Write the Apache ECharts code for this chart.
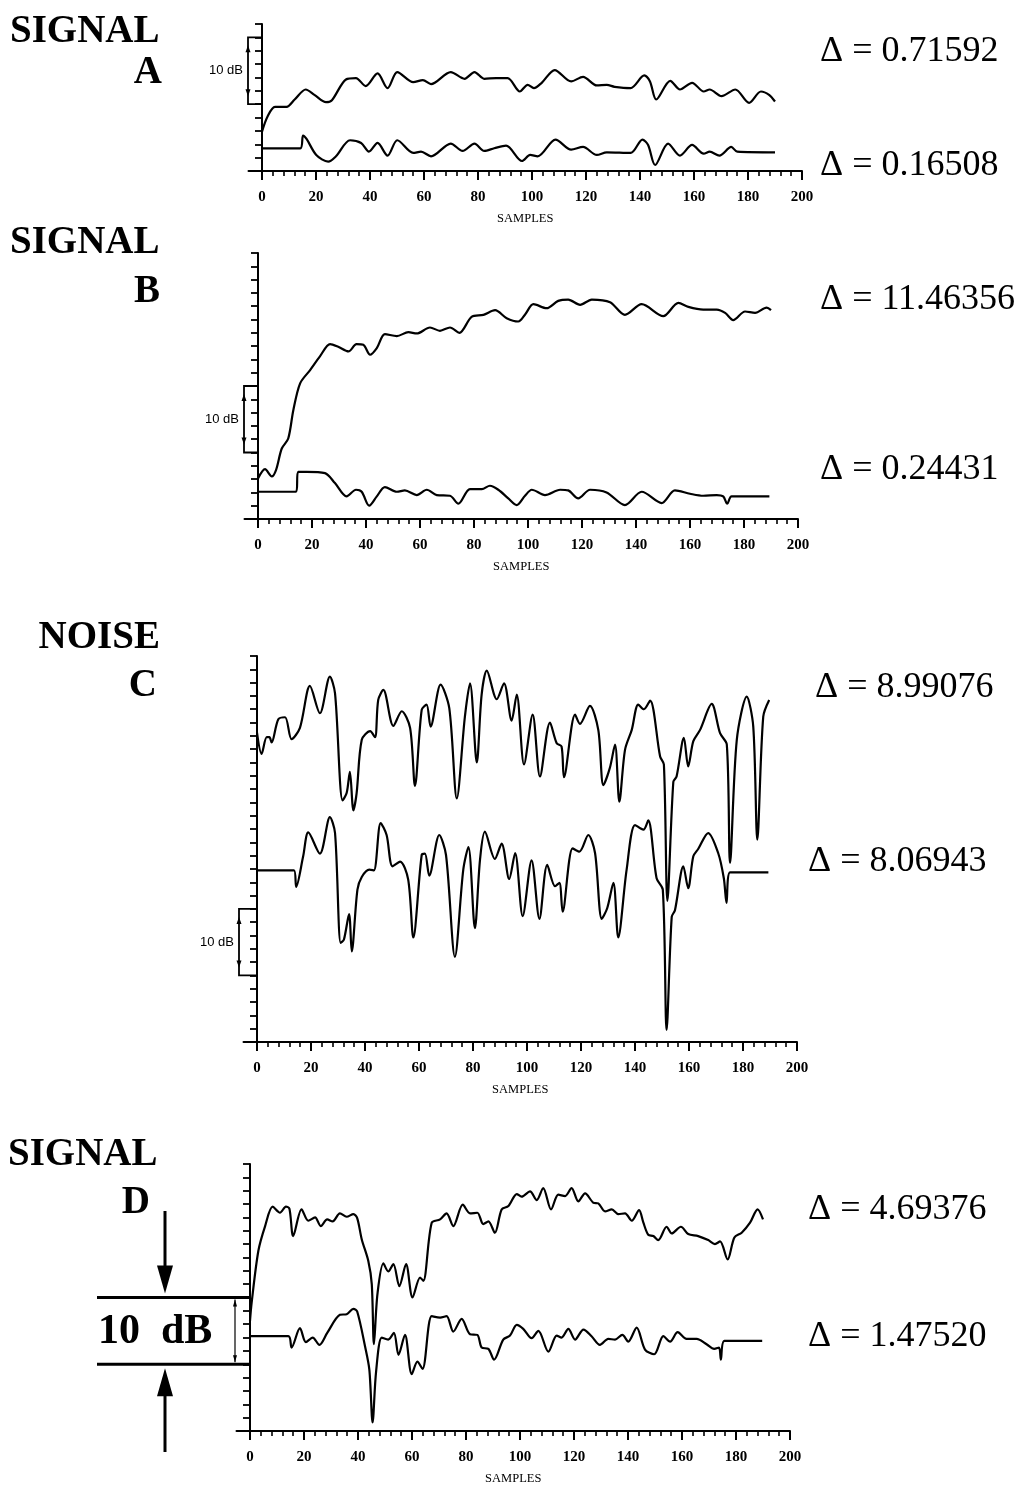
<!DOCTYPE html>
<html><head><meta charset="utf-8">
<script src="https://cdn.jsdelivr.net/npm/echarts@6/dist/echarts.min.js"></script>
<style>html,body{margin:0;padding:0;background:#fff}#c{width:1028px;height:1486px}</style>
</head><body><div id="c"></div>
<script>
// ---- tick values ----
const xLabelValues = [0,20,40,60,80,100,120,140,160,180,200];
const xMinorValues = [0,4,8,12,16,20,24,28,32,36,40,44,48,52,56,60,64,68,72,76,80,84,88,92,96,100,104,108,112,116,120,124,128,132,136,140,144,148,152,156,160,164,168,172,176,180,184,188,192,196,200];

// ---- panel A (sample, dB) ----
const aUpper = [[0,5.9],[2.1,8.2],[4.8,9.6],[9.1,9.6],[12.1,10.7],[16.2,12.2],[19.4,11.4],[23.7,10.3],[25.9,10.6],[31.1,13.7],[34.8,13.9],[38.4,12.7],[42.8,14.6],[46.5,12.4],[50.1,14.8],[56,13.3],[59.6,13.6],[62.6,13.0],[69.9,14.8],[75,13.8],[78.7,14.8],[82.3,13.8],[86.7,13.9],[91,13.9],[95.5,11.9],[98.4,12.9],[100.7,12.4],[103.6,13.2],[108.4,15.1],[114.5,13.4],[118.9,14.1],[124,12.8],[127.7,12.9],[130.6,12.6],[136.5,12.4],[141.6,14.3],[143.7,13.4],[146,10.7],[151.2,13.5],[154.8,12.2],[159.3,13.2],[163.6,11.9],[165.8,12.2],[170.2,11.2],[175.3,12.2],[180.4,10.2],[184.8,11.9],[187.8,11.4],[190,10.4]];
const aLower = [[0,3.4],[14.2,3.4],[15.2,5.3],[16.5,4.8],[20.1,2.4],[24.5,1.4],[27.4,2.2],[32.6,4.6],[36.7,4.2],[39.6,2.9],[42.8,4.2],[46.5,2.3],[50.1,4.6],[56,2.7],[58.9,2.9],[62.6,2.2],[69.9,4.1],[74.3,3.0],[78.7,4.1],[82.3,3.0],[86,3.4],[90.4,3.8],[96.3,1.5],[99.3,2.4],[102.1,2.2],[108.7,4.7],[114.5,3.2],[118.9,3.6],[124,2.4],[127.7,2.8],[136.5,2.7],[140.9,4.7],[143,3.9],[145.6,0.9],[150.4,4.1],[154.8,2.3],[159.3,3.9],[163.6,2.6],[165.8,2.9],[169.4,2.3],[173.8,3.6],[176,2.9],[190,2.8]];

// ---- panel B ----
const bUpper = [[0,6.1],[2.6,7.5],[5.1,6.4],[6.7,7.4],[8.8,10.6],[11.2,12.1],[13.1,16.4],[15.6,20.4],[19.3,22.4],[23,24.5],[26.7,26.3],[29.7,25.9],[33.5,25.2],[36.5,26.3],[39,26.2],[41.5,24.7],[44,25.7],[47,27.8],[51.4,27.5],[55.7,28.1],[58.8,27.9],[63.7,28.8],[67.4,28.3],[71.1,28.8],[74.6,28.0],[79.1,30.4],[83.5,30.7],[87.8,31.4],[92.1,30.2],[96.4,29.7],[99,30.8],[102,32.3],[106.9,31.7],[111.2,32.8],[114.9,33.0],[119.3,32.2],[123.6,33.0],[130.4,32.6],[135.9,30.7],[142.1,32.3],[150.1,30.5],[155.7,32.5],[159.4,31.9],[164.9,31.5],[169.9,31.5],[173,31.0],[176,29.9],[180.4,31.2],[184.1,31.0],[188.4,31.8],[190,31.4]];
const bLower = [[0,4.1],[14.1,4.1],[14.9,7.1],[18,7.1],[24.8,6.9],[28.5,5.4],[32.8,3.4],[36.3,4.4],[38.4,4.1],[41.2,2.0],[44,3.4],[47,4.8],[51.4,4.1],[54.4,4.3],[58.8,3.6],[62.5,4.4],[66.2,3.6],[71.1,3.5],[74.2,2.3],[78.5,4.5],[82.9,4.5],[85.9,5.0],[89,4.4],[92.7,3.1],[95.8,2.1],[98.9,3.5],[101.4,4.4],[106.3,3.6],[111.9,4.4],[114.9,4.3],[118.6,3.1],[123,4.4],[129.1,4.0],[135.9,2.1],[142.1,4.1],[149.5,2.4],[154.4,4.3],[160,3.8],[164.9,3.5],[169.9,3.6],[172.3,3.4],[173.8,2.3],[175.4,3.4],[189.4,3.4]];

// ---- panel C ----
const cUpper = [[0,46.5],[1.7,43.3],[3.6,45.8],[4.6,45.8],[5.4,45.0],[7.9,48.5],[10.4,48.8],[12.8,45.5],[15.9,47.2],[19.6,53.5],[23.3,49.4],[27,54.9],[28.9,52.4],[31.7,36.3],[33.2,37.4],[34.4,40.6],[35.7,34.8],[36.9,37.4],[38.8,45.4],[41.9,46.7],[43.7,45.8],[44.9,51.4],[46.8,52.9],[50.5,47.5],[53.6,49.7],[56.7,47.2],[58.5,38.5],[61,49.9],[62.8,50.7],[64.3,47.4],[68,53.7],[71.2,50.2],[74,36.6],[77,48.9],[78.9,53.9],[81.4,42.0],[83.2,52.2],[85.1,55.8],[88.8,51.5],[91.5,53.9],[94.3,48.3],[96.2,52.2],[98.9,41.7],[102.1,49.2],[104.8,39.9],[108.5,48.0],[111,44.9],[112.8,44.4],[113.7,39.8],[117.8,49.2],[119.6,47.8],[123.3,50.5],[126.4,46.9],[128.3,38.6],[130.7,41.2],[132.6,44.7],[134.2,36.1],[136.3,43.9],[138.8,46.9],[141.2,50.7],[143.3,50.0],[145.6,51.3],[149.3,42.9],[150.7,41.7],[152,21.2],[154.2,39.1],[155.4,39.9],[158.1,45.7],[159.7,41.4],[161.6,45.2],[164.1,46.9],[168.4,50.8],[171.5,46.4],[174,44.7],[175.2,26.9],[177.7,45.4],[181.4,51.9],[183.8,47.4],[185.3,30.4],[187.5,48.9],[189.7,51.4]];
const cLower = [[0,25.8],[13.7,25.8],[14.5,23.3],[17.1,27.9],[19,31.5],[23.3,28.3],[27,33.8],[28.9,31.4],[31,14.9],[32.2,15.4],[34.1,19.2],[35.1,13.6],[37.2,22.9],[38.8,24.8],[41.6,25.9],[43.3,25.8],[45.8,32.9],[48,31.1],[50.2,26.4],[53,27.1],[56,24.4],[57.9,15.7],[61,28.1],[62.2,28.3],[63.8,25.0],[67.5,31.1],[70,28.1],[73.3,12.8],[76.4,25.9],[78.3,29.3],[80.7,17.1],[82.6,27.4],[84.4,31.6],[88.1,27.5],[90.6,29.8],[93.4,24.5],[95.6,28.4],[98.4,18.9],[101.7,27.3],[104.6,18.5],[107.5,26.6],[110.4,23.4],[112,23.9],[113.2,19.6],[116.9,29.1],[119.4,28.6],[122.7,31.1],[125.2,28.4],[127.7,18.5],[129.7,20.1],[132,23.9],[133.8,15.7],[136.9,25.9],[140,32.6],[143.1,31.9],[144.9,33.3],[148,24.6],[150.3,22.9],[151.7,1.8],[153.6,18.8],[154.8,19.8],[157.9,26.4],[159.7,23.1],[161.6,27.9],[163.4,29.0],[167.1,31.4],[170.8,28.4],[172.9,24.6],[173.9,20.9],[175.2,25.5],[189.4,25.5]];

// ---- panel D ----
const dUpper = [[0,16.5],[0.6,19.2],[3.1,27.0],[5.6,30.7],[8.4,33.6],[11.1,32.7],[13.3,33.6],[14.6,33.3],[16,29.2],[19.1,33.2],[21.6,31.5],[24.1,32.0],[26.2,30.7],[28.6,31.7],[30.6,31.4],[33.3,32.6],[35.8,32.1],[38.3,32.5],[39.7,31.9],[41.4,28.7],[43.8,25.5],[45.1,22.0],[45.9,13.0],[47.2,20.5],[49.4,25.1],[51.2,23.9],[53.1,25.0],[55.3,21.7],[57.8,25.0],[60.2,20.0],[63,23.0],[64.2,22.5],[67.3,31.2],[70.4,31.7],[72.8,32.6],[75.3,30.7],[78.8,33.9],[81.5,32.6],[84.2,32.7],[86.4,31.0],[88.3,31.4],[90.7,29.7],[93.2,33.2],[95.7,33.7],[98.8,35.5],[100.6,35.1],[103.7,35.9],[106.2,34.6],[108.6,36.4],[111.5,33.2],[114.2,35.4],[116.7,35.2],[119.1,36.4],[121.6,34.4],[124.1,35.6],[127.2,34.2],[129,34.1],[131.5,32.9],[134,33.2],[136.4,32.5],[138.9,32.6],[141.4,31.5],[144.1,33.1],[145.7,31.2],[147.5,29.4],[149.4,29.2],[151.2,28.6],[154.3,30.6],[156.2,29.6],[159.6,30.6],[162.3,29.5],[166,29.2],[169.7,28.6],[172.2,28.0],[174.1,28.4],[176.9,25.7],[179.4,29.0],[182.1,29.7],[185.2,31.2],[188,33.2],[190,31.7]];
const dLower = [[0,14.2],[14.2,14.2],[15.4,12.5],[18.5,15.4],[20.7,13.3],[23.2,14.0],[25.7,12.9],[28.6,14.7],[33.3,17.4],[35.8,17.5],[38.3,18.3],[39.7,17.9],[42.6,12.7],[44.2,9.2],[45.4,1.3],[46.7,8.9],[48.8,14.0],[51.2,13.7],[53.3,14.7],[55,11.4],[57.4,14.4],[59.9,8.5],[62,10.4],[63.9,9.3],[67.3,17.2],[70.4,17.0],[72.8,17.2],[75.3,14.9],[78.4,16.8],[81.5,14.5],[84.2,14.4],[85.8,12.5],[88.3,12.3],[90.4,10.7],[93.8,13.7],[96.3,14.3],[98.8,15.9],[101.2,15.3],[104.3,13.9],[106.8,15.0],[110.5,11.9],[113.6,14.3],[115.4,14.0],[117.9,15.3],[120.4,13.7],[123.5,15.2],[126.5,14.2],[129.6,12.9],[132.7,13.8],[135.2,13.7],[137.9,14.4],[140.1,13.4],[143.2,15.5],[146.3,12.2],[149.7,11.5],[153.1,14.2],[155.6,13.4],[158.4,14.8],[161.7,13.8],[165.4,13.8],[169.1,13.0],[171.9,12.3],[173.7,12.5],[174.4,10.7],[175.7,13.5],[189.7,13.5]];

// ---- text ----
const panelTitles = [['SIGNAL','A'],['SIGNAL','B'],['NOISE','C'],['SIGNAL','D']];
const deltaUpper = ['0.71592','11.46356','8.99076','4.69376'];
const deltaLower = ['0.16508','0.24431','8.06943','1.47520'];
const yMax = [22, 40, 58, 40];

// layout (pixels) per panel
const L = [
  {x0:262, top:24,  bottom:171},
  {x0:258, top:253, bottom:519},
  {x0:257, top:656, bottom:1042},
  {x0:250, top:1164,bottom:1431}
];
const PXU = 2.7;
const XMIN = -5;

const chart = echarts.init(document.getElementById('c'));
const grids=[], xAxes=[], yAxes=[], series=[];
const pairs = [[aUpper,aLower],[bUpper,bLower],[cUpper,cLower],[dUpper,dLower]];
const serif = '"Liberation Serif", "Times New Roman", serif';
L.forEach((p,i)=>{
  grids.push({left: p.x0 + XMIN*PXU, width: (200-XMIN)*PXU, top: p.top, height: p.bottom-p.top});
  xAxes.push({type:'value', gridIndex:i, min:XMIN, max:200, position:'bottom',
    axisLine:{show:true, onZero:true, lineStyle:{color:'#000', width:2}},
    axisTick:{show:true, customValues:xMinorValues, length:5, inside:false, lineStyle:{color:'#000', width:1.6}},
    axisLabel:{show:true, customValues:xLabelValues, margin:19, color:'#000', fontFamily:serif, fontWeight:'bold', fontSize:15},
    splitLine:{show:false},
    name:'SAMPLES', nameLocation:'middle', nameGap:41,
    nameTextStyle:{color:'#000', fontFamily:serif, fontSize:12.5}
  });
  xAxes.push({type:'value', gridIndex:i, min:XMIN, max:200, position:'bottom',
    axisLine:{show:false},
    axisTick:{show:true, customValues:xLabelValues, length:9, inside:false, lineStyle:{color:'#000', width:2}},
    axisLabel:{show:false}, splitLine:{show:false}
  });
  yAxes.push({type:'value', gridIndex:i, min:0, max:yMax[i], interval:2,
    axisLine:{show:true, onZero:true, onZeroAxisIndex:2*i, lineStyle:{color:'#000', width:2}},
    axisTick:{show:true, length:7, inside:false, lineStyle:{color:'#000', width:1.8}},
    axisLabel:{show:false}, splitLine:{show:false}
  });
  pairs[i].forEach(d=>{
    series.push({type:'line', xAxisIndex:2*i, yAxisIndex:i, data:d, showSymbol:false, smooth:0.3,
      lineStyle:{color:'#000', width:2.2}, silent:true, animation:false});
  });
});

chart.setOption({animation:false, backgroundColor:'#fff', grid:grids, xAxis:xAxes, yAxis:yAxes, series:series});

// ---- annotations ----
const g = [];
function T(text, x, y, font, align){
  g.push({type:'text', x:x, y:y, style:{text:text, font:font, fill:'#000', align:align||'left', verticalAlign:'middle'}});
}
const titleFont = 'bold 39px ' + serif;
const titlePos = [[10,32,162,73],[10,243,160,292],[160,638,157,686],[8,1155,150,1203]];
panelTitles.forEach((t,i)=>{
  const p = titlePos[i];
  if (t[0]==='NOISE') T(t[0], p[0], p[1], titleFont, 'right'); else T(t[0], p[0], p[1], titleFont, 'left');
  T(t[1], p[2], p[3], titleFont, 'right');
});
const dFont = '36px ' + serif;
const dPos = [[820,52,820,166],[820,300,820,470],[815,688,808,862],[808,1210,808,1337]];
dPos.forEach((p,i)=>{
  T('\u0394 = ' + deltaUpper[i], p[0], p[1], dFont);
  T('\u0394 = ' + deltaLower[i], p[2], p[3], dFont);
});

function pxX(i, v){ return chart.convertToPixel({xAxisIndex:2*i}, v); }
function pxY(i, v){ return chart.convertToPixel({yAxisIndex:i}, v); }
const bracketOffset = [14, 14, 18];
for (let i=0;i<3;i++){
  const x0 = pxX(i,0), yT = pxY(i,20), yB = pxY(i,10), bx = x0 - bracketOffset[i];
  g.push({type:'polyline', shape:{points:[[x0,yT],[bx,yT],[bx,yB],[x0,yB]]}, style:{stroke:'#000', lineWidth:1.8, fill:null}});
  g.push({type:'polygon', shape:{points:[[bx,yT+8],[bx-2.5,yT+15],[bx+2.5,yT+15]]}, style:{fill:'#000'}});
  g.push({type:'polygon', shape:{points:[[bx,yB-8],[bx-2.5,yB-15],[bx+2.5,yB-15]]}, style:{fill:'#000'}});
  T('10 dB', bx-5, (yT+yB)/2, '13px "Liberation Sans", Arial, sans-serif', 'right');
}
// big 10 dB marker in panel D
(function(){
  const x0 = pxX(3,0), yT = pxY(3,20), yB = pxY(3,10);
  g.push({type:'line', shape:{x1:97, y1:yT, x2:x0, y2:yT}, style:{stroke:'#000', lineWidth:3}});
  g.push({type:'line', shape:{x1:97, y1:yB, x2:x0, y2:yB}, style:{stroke:'#000', lineWidth:3}});
  const ax = x0 - 15;
  g.push({type:'line', shape:{x1:ax, y1:yT+2, x2:ax, y2:yB-2}, style:{stroke:'#000', lineWidth:1.2}});
  g.push({type:'polygon', shape:{points:[[ax,yT+2],[ax-2,yT+9],[ax+2,yT+9]]}, style:{fill:'#000'}});
  g.push({type:'polygon', shape:{points:[[ax,yB-2],[ax-2,yB-9],[ax+2,yB-9]]}, style:{fill:'#000'}});
  T('10  dB', 98, (yT+yB)/2+1, 'bold 42px ' + serif);
  const sx = 165;
  g.push({type:'line', shape:{x1:sx, y1:1211, x2:sx, y2:yT-26}, style:{stroke:'#000', lineWidth:3}});
  g.push({type:'polygon', shape:{points:[[sx,yT-4],[sx-8,yT-32],[sx+8,yT-32]]}, style:{fill:'#000'}});
  g.push({type:'line', shape:{x1:sx, y1:yB+26, x2:sx, y2:1452}, style:{stroke:'#000', lineWidth:3}});
  g.push({type:'polygon', shape:{points:[[sx,yB+4],[sx-8,yB+32],[sx+8,yB+32]]}, style:{fill:'#000'}});
})();
chart.setOption({graphic:{elements:g}});
</script>
</body></html>
